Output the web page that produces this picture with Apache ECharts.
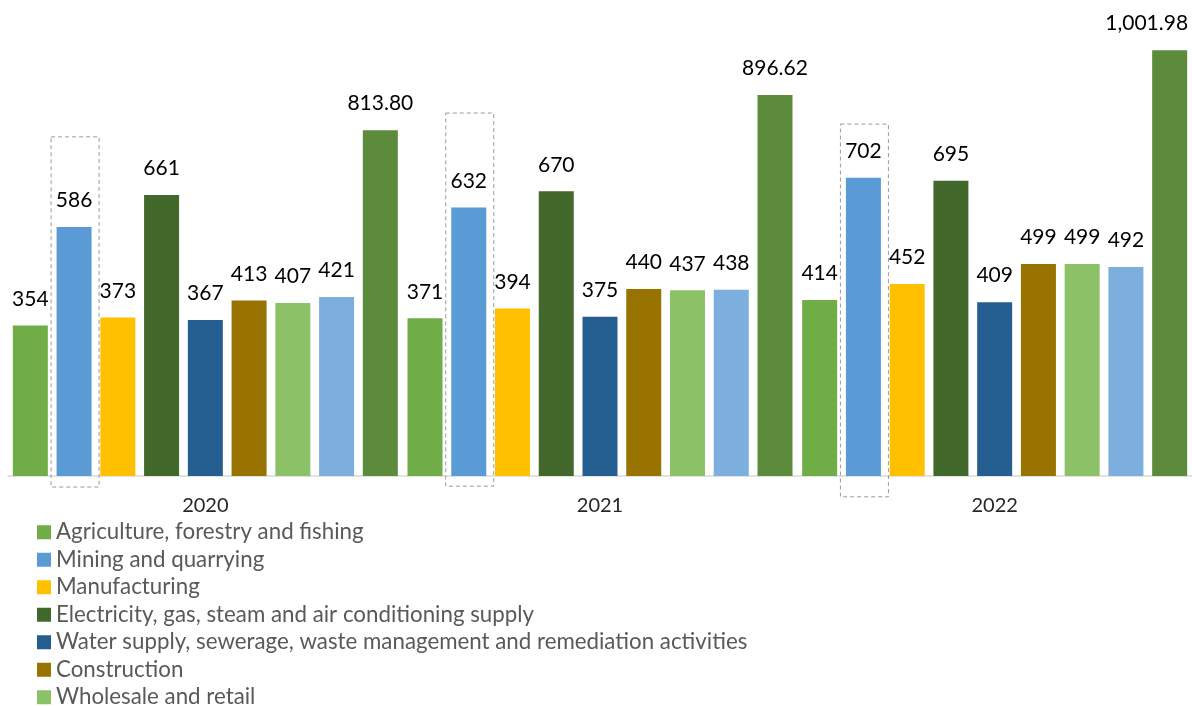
<!DOCTYPE html>
<html><head><meta charset="utf-8">
<script src="https://cdn.jsdelivr.net/npm/echarts@6/dist/echarts.min.js"></script>
<style>html,body{margin:0;padding:0;background:#fff}#c{width:1192px;height:706px}</style>
</head><body><div id="c"></div>
<script>
var years = ['2020', '2021', '2022'];
var seriesNames = [
  'Agriculture, forestry and fishing',
  'Mining and quarrying',
  'Manufacturing',
  'Electricity, gas, steam and air conditioning supply',
  'Water supply, sewerage, waste management and remediation activities',
  'Construction',
  'Wholesale and retail',
  'Transportation and storage',
  'Financial and insurance activities'
];
var agriculture = [354, 371, 414];
var mining = [586, 632, 702];
var manufacturing = [373, 394, 452];
var electricity = [661, 670, 695];
var water = [367, 375, 409];
var construction = [413, 440, 499];
var wholesale = [407, 437, 499];
var transport = [421, 438, 492];
var finance = [813.80, 896.62, 1001.98];
// dashed highlight boxes around mining bars: [year index, top value, bottom value]
var highlightBoxes = [[0, 798, -26], [1, 854, -24], [2, 828, -49]];

var colors = ['#70AD47', '#5B9BD5', '#FFC000', '#43682B', '#255E91', '#997300', '#8CC168', '#7CAFDD', '#5B8B3B'];
var values = [agriculture, mining, manufacturing, electricity, water, construction, wholesale, transport, finance];

var BAR_W = 35, GAP = 0.25;
var pitch = BAR_W * (1 + GAP);
var FONT = 'Lato, "Open Sans", sans-serif';

var series = values.map(function (arr, i) {
  var data = arr.map(function (v, j) {
    // keep the last (edge) label inside the canvas, as in the original
    if (i === values.length - 1 && j === arr.length - 1) {
      return { value: v, label: { offset: [-23, 0] } };
    }
    return v;
  });
  return {
    name: seriesNames[i],
    type: 'bar',
    data: data,
    barWidth: BAR_W,
    barGap: (GAP * 100) + '%',
    itemStyle: { color: colors[i] },
    label: {
      show: true,
      position: 'top',
      distance: 16,
      color: '#000',
      fontFamily: FONT,
      fontSize: 21,
      formatter: function (p) {
        if (i === 8) return p.value.toLocaleString('en-US', { minimumFractionDigits: 2, maximumFractionDigits: 2 });
        return Math.round(p.value).toString();
      }
    }
  };
});

series.push({
  type: 'custom',
  data: highlightBoxes,
  encode: { x: 0, y: 1 },
  z: 5,
  silent: true,
  renderItem: function (params, api) {
    var top = api.coord([api.value(0), api.value(1)]);
    var bot = api.coord([api.value(0), api.value(2)]);
    var cx = top[0] - 3 * pitch + 1;
    return {
      type: 'rect',
      shape: { x: cx - 24, y: top[1], width: 48, height: bot[1] - top[1] },
      style: { fill: 'none', stroke: '#9a9a9a', lineWidth: 1, lineDash: [4, 3] }
    };
  }
});

var chart = echarts.init(document.getElementById('c'));
chart.setOption({
  animation: false,
  backgroundColor: '#fff',
  grid: { left: 8, top: 8.5, width: 1191, height: 467.5, containLabel: false },
  xAxis: {
    type: 'category',
    data: years,
    axisTick: { show: false },
    axisLine: { lineStyle: { color: '#D9D9D9', width: 1.5 } },
    axisLabel: { color: '#262626', fontFamily: FONT, fontSize: 20, margin: 20 }
  },
  yAxis: { type: 'value', min: 0, max: 1100, show: false, splitLine: { show: false } },
  legend: {
    orient: 'vertical',
    left: 32,
    top: 516,
    height: 1000,
    itemWidth: 14,
    itemHeight: 14,
    itemGap: 5,
    icon: 'rect',
    data: seriesNames,
    textStyle: { color: '#595959', fontFamily: FONT, fontSize: 22.3, lineHeight: 22.5 }
  },
  series: series
});
</script>
</body></html>
